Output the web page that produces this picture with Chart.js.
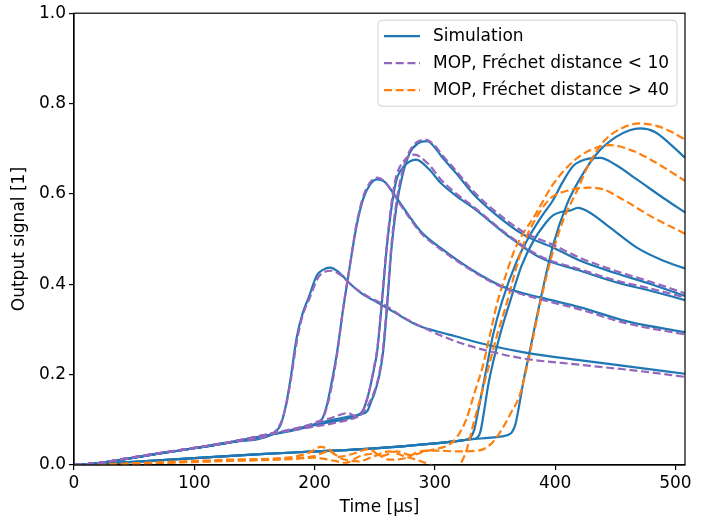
<!DOCTYPE html>
<html>
<head>
<meta charset="utf-8">
<script src="https://cdn.jsdelivr.net/npm/chart.js@4"></script>
<style>
  html, body { margin: 0; padding: 0; background: #fff; }
</style>
</head>
<body>
<canvas id="chart" width="705" height="526"></canvas>
<script>
// series labels for the legend
const seriesLabels = ["Simulation", "MOP, Fréchet distance < 10", "MOP, Fréchet distance > 40"];
const seriesColors = ["#1f77b4", "#9467bd", "#ff7f0e"];
const timeTicks = [0, 100, 200, 300, 400, 500];
const signalTicks = [0, 0.2, 0.4, 0.6, 0.8, 1.0];

// [time (µs), output signal]
// early cases: simulation + matching MOP (Fréchet < 10)
const simA1 = [[0,0],[20,0.004],[40,0.012],[70,0.025],[100,0.037],[130,0.05],[165,0.068],[168,0.075],[172,0.09],[176,0.13],[180,0.19],[185,0.28],[190,0.335],[195,0.37],[202,0.42],[207,0.432],[213,0.437],[220,0.427],[230,0.40],[240,0.378],[252,0.36],[265,0.34],[285,0.31],[300,0.297],[317,0.285],[345,0.265],[373,0.25],[420,0.232],[470,0.215],[508,0.202]];
const mopA1 = [[0,0],[20,0.004],[40,0.013],[70,0.026],[100,0.038],[130,0.051],[165,0.07],[169,0.08],[173,0.1],[177,0.14],[181,0.2],[185,0.27],[190,0.33],[196,0.37],[203,0.415],[208,0.427],[214,0.43],[222,0.42],[232,0.395],[245,0.372],[258,0.355],[272,0.33],[290,0.305],[317,0.274],[345,0.252],[373,0.236],[420,0.222],[470,0.208],[508,0.195]];

const simA2 = [[0,0],[20,0.004],[40,0.012],[70,0.025],[100,0.037],[130,0.05],[165,0.068],[185,0.078],[200,0.09],[206,0.1],[210,0.13],[214,0.18],[218.5,0.246],[224,0.35],[229.6,0.445],[235,0.53],[240.6,0.59],[246,0.62],[252,0.632],[258,0.627],[266,0.6],[275,0.565],[289,0.515],[304.5,0.481],[332,0.43],[359,0.392],[387.6,0.371],[421,0.349],[460,0.318],[508,0.294]];
const mopA2 = [[0,0],[20,0.004],[40,0.013],[70,0.026],[100,0.038],[130,0.051],[165,0.07],[185,0.08],[200,0.094],[207,0.105],[211,0.135],[215,0.185],[219,0.25],[224,0.35],[229.6,0.445],[235,0.535],[240.6,0.595],[246,0.625],[252,0.636],[258,0.628],[266,0.598],[275,0.562],[289,0.512],[304.5,0.478],[332,0.428],[359,0.39],[387.6,0.367],[421,0.344],[460,0.313],[508,0.289]];

const simA3 = [[0,0],[20,0.004],[40,0.012],[70,0.025],[100,0.037],[130,0.05],[165,0.068],[200,0.088],[215,0.096],[228,0.103],[236,0.11],[240,0.12],[243,0.14],[246,0.17],[250,0.22],[252,0.25],[256,0.36],[260,0.48],[264,0.57],[268,0.63],[274,0.66],[284.5,0.676],[295,0.655],[305,0.624],[318,0.595],[332,0.569],[359.4,0.51],[387.6,0.459],[421,0.43],[450,0.405],[480,0.385],[508,0.365]];
const mopA3 = [[0,0],[20,0.004],[40,0.013],[70,0.026],[100,0.038],[130,0.051],[165,0.07],[200,0.085],[215,0.092],[228,0.1],[236,0.107],[240,0.118],[243,0.14],[246,0.17],[250,0.225],[252,0.255],[256,0.365],[260,0.485],[264,0.58],[268,0.64],[274,0.672],[283,0.687],[295,0.665],[305,0.632],[318,0.6],[332,0.572],[359.4,0.512],[387.6,0.462],[421,0.433],[450,0.409],[480,0.39],[508,0.371]];

const simA4 = [[0,0],[20,0.004],[40,0.012],[70,0.025],[100,0.037],[130,0.05],[165,0.068],[200,0.09],[215,0.1],[228,0.107],[238,0.112],[244,0.12],[247,0.14],[250,0.16],[254,0.2],[257,0.25],[260,0.34],[264,0.48],[268,0.57],[273,0.64],[279,0.69],[286,0.712],[293.6,0.717],[300,0.703],[305,0.685],[318,0.645],[332,0.6],[350,0.556],[373.6,0.51],[398.5,0.481],[421,0.452],[450,0.425],[480,0.4],[508,0.374]];
const mopA4 = [[0,0],[20,0.004],[40,0.013],[70,0.026],[100,0.038],[130,0.051],[165,0.07],[200,0.092],[215,0.105],[228,0.115],[234,0.108],[238,0.11],[242,0.122],[246,0.14],[250,0.165],[254,0.205],[257,0.26],[260,0.35],[264,0.49],[268,0.58],[273,0.65],[279,0.695],[286,0.716],[292,0.72],[300,0.707],[305,0.69],[318,0.65],[332,0.606],[350,0.562],[373.6,0.516],[398.5,0.487],[421,0.458],[450,0.43],[480,0.405],[508,0.38]];

// late cases: simulation
const simB1 = [[0,0],[25,0.003],[50,0.007],[100,0.015],[155,0.024],[200,0.03],[250,0.037],[300,0.048],[318,0.053],[326,0.056],[330,0.062],[333,0.08],[336,0.12],[340.5,0.18],[348.6,0.29],[356,0.363],[368,0.45],[379.4,0.51],[390,0.555],[398,0.585],[406,0.625],[415,0.662],[426,0.677],[437.6,0.68],[450,0.665],[468,0.632],[490,0.591],[508,0.559]];
const simB2 = [[0,0],[25,0.003],[50,0.007],[100,0.015],[155,0.024],[200,0.03],[250,0.037],[300,0.048],[318,0.053],[330,0.057],[335,0.06],[338,0.075],[341,0.12],[344.6,0.18],[354.4,0.29],[362.7,0.363],[372,0.44],[382,0.496],[392,0.535],[398.5,0.553],[405,0.56],[412,0.563],[419,0.569],[428,0.56],[446,0.525],[468,0.481],[490,0.452],[508,0.435]];
const simB3 = [[0,0],[25,0.003],[50,0.007],[100,0.015],[155,0.024],[200,0.03],[250,0.037],[300,0.048],[318,0.053],[330,0.057],[348.6,0.061],[360,0.066],[364,0.072],[367,0.09],[370,0.13],[374,0.19],[379,0.253],[387.6,0.363],[398.5,0.488],[409.8,0.577],[421,0.635],[435,0.69],[450,0.725],[462,0.741],[471,0.745],[483,0.737],[495,0.712],[508,0.68]];

// late cases: MOP (Fréchet > 40)
const mopB1 = [[0,0],[30,0.002],[80,0.007],[130,0.012],[180,0.017],[196,0.028],[205,0.04],[212,0.035],[220,0.018],[232,0.025],[245,0.035],[256,0.02],[268,0.03],[280,0.022],[292,0.03],[300,0.035],[312,0.045],[318,0.06],[326,0.1],[333,0.16],[340,0.22],[346,0.29],[352,0.36],[359,0.42],[366,0.474],[374,0.515],[382,0.547],[398,0.62],[415,0.672],[430,0.698],[446,0.708],[465,0.695],[482,0.672],[508,0.629]];
const mopB2 = [[0,0],[30,0.001],[80,0.006],[130,0.01],[180,0.014],[200,0.02],[212,0.03],[222,0.015],[236,0.008],[250,0.02],[262,0.03],[274,0.02],[284,0.012],[292,0.005],[300,-0.003],[312,-0.01],[320,-0.002],[326,0.03],[332,0.09],[338,0.15],[345,0.22],[352,0.29],[360,0.36],[367,0.43],[374,0.49],[385,0.55],[396,0.59],[410,0.607],[429,0.614],[440,0.61],[454,0.591],[482,0.547],[508,0.512]];
const mopB3 = [[0,0],[30,0.001],[80,0.005],[130,0.009],[180,0.013],[200,0.016],[215,0.01],[226,0.005],[238,0.02],[250,0.025],[262,0.012],[275,0.015],[288,0.03],[300,0.032],[320,0.03],[338,0.033],[348,0.05],[356,0.08],[363,0.114],[371,0.158],[380,0.26],[388,0.363],[399,0.48],[408,0.55],[418,0.606],[428,0.665],[440,0.715],[455,0.745],[471,0.756],[485,0.75],[497,0.737],[508,0.72]];

const simSeries = [simA1, simA2, simA3, simA4, simB1, simB2, simB3];
const mopGoodSeries = [mopA1, mopA2, mopA3, mopA4];
const mopBadSeries = [mopB1, mopB2, mopB3];

const font = "DejaVu Sans";
const fontSize = 17;

function lineSet(data, group, dashed) {
  return {
    label: seriesLabels[group],
    data: data,
    borderColor: seriesColors[group],
    borderWidth: 2.2,
    borderDash: dashed ? [8, 3.7] : [],
    pointRadius: 0,
    cubicInterpolationMode: "monotone",
    fill: false,
    order: dashed ? 1 : 2,
  };
}

const datasets = [];
simSeries.forEach((d) => datasets.push(lineSet(d, 0, false)));
mopGoodSeries.forEach((d) => datasets.push(lineSet(d, 1, true)));
mopBadSeries.forEach((d) => datasets.push(lineSet(d, 2, true)));

// matplotlib like frame + legend box in the upper right
const framePlugin = {
  id: "frame",
  afterDraw(chart) {
    const ctx = chart.ctx;
    const a = chart.chartArea;
    ctx.save();
    ctx.strokeStyle = "#000";
    ctx.lineWidth = 1.2;
    ctx.strokeRect(a.left, a.top, a.right - a.left, a.bottom - a.top);

    // legend
    const right = a.right - 8;
    const top = a.top + 7;
    const w = 299, h = 86;
    const left = right - w;
    ctx.beginPath();
    ctx.roundRect(left, top, w, h, 4);
    ctx.fillStyle = "rgba(255,255,255,0.8)";
    ctx.fill();
    ctx.strokeStyle = "#d0d0d0";
    ctx.lineWidth = 1;
    ctx.stroke();

    ctx.font = fontSize + "px '" + font + "'";
    ctx.textBaseline = "middle";
    ctx.textAlign = "left";
    seriesLabels.forEach((lab, i) => {
      const y = top + 16 + i * 27;
      ctx.beginPath();
      ctx.setLineDash(i === 0 ? [] : [8, 3.7]);
      ctx.strokeStyle = seriesColors[i];
      ctx.lineWidth = 2.2;
      ctx.moveTo(left + 6, y);
      ctx.lineTo(left + 42, y);
      ctx.stroke();
      ctx.setLineDash([]);
      ctx.fillStyle = "#000";
      ctx.fillText(lab, left + 55, y);
    });
    ctx.restore();
  },
};

new Chart(document.getElementById("chart"), {
  type: "line",
  data: { datasets: datasets },
  options: {
    responsive: false,
    animation: false,
    devicePixelRatio: 1,
    layout: { padding: { top: 11, right: 20, left: 0, bottom: 0 } },
    plugins: { legend: { display: false }, tooltip: { enabled: false } },
    scales: {
      x: {
        type: "linear",
        min: 0,
        max: 508,
        afterBuildTicks: (s) => { s.ticks = timeTicks.map((v) => ({ value: v })); },
        ticks: {
          color: "#000",
          padding: 3,
          maxRotation: 0,
          font: { family: font, size: fontSize },
          callback: (v) => String(v),
        },
        grid: { drawOnChartArea: false, tickLength: 5, color: "#000", lineWidth: 1.2 },
        border: { color: "#000", width: 1.2 },
        title: {
          display: true,
          text: "Time [µs]",
          color: "#000",
          font: { family: font, size: fontSize },
          padding: { top: 0, bottom: 8 },
        },
        afterFit: (s) => { s.height = 61; },
      },
      y: {
        type: "linear",
        min: 0,
        max: 1,
        afterBuildTicks: (s) => { s.ticks = signalTicks.map((v) => ({ value: v })); },
        ticks: {
          color: "#000",
          padding: 3,
          font: { family: font, size: fontSize },
          callback: (v) => v.toFixed(1),
        },
        grid: { drawOnChartArea: false, tickLength: 5, color: "#000", lineWidth: 1.2 },
        border: { color: "#000", width: 1.2 },
        title: {
          display: true,
          text: "Output signal [1]",
          color: "#000",
          font: { family: font, size: fontSize },
          padding: { top: 9, bottom: 0 },
        },
        afterFit: (s) => { s.width = 74; },
      },
    },
  },
  plugins: [framePlugin],
});
</script>
</body>
</html>
